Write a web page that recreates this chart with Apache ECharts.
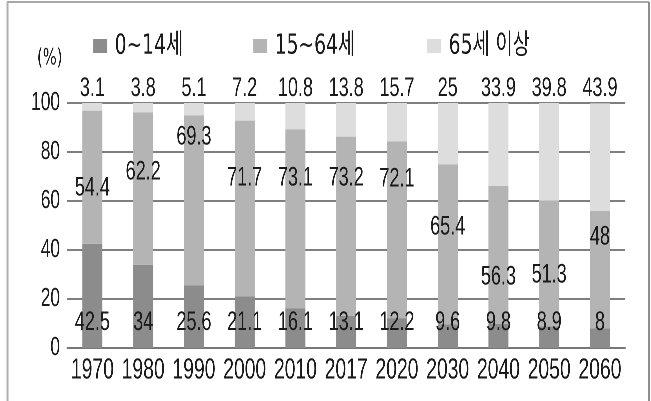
<!DOCTYPE html>
<html>
<head>
<meta charset="utf-8">
<script src="https://cdn.jsdelivr.net/npm/echarts@6/dist/echarts.min.js"></script>
<style>
html,body{margin:0;padding:0;background:#fff;overflow:hidden;width:651px;height:401px;}
#c{width:976.5px;height:401px;transform:scaleX(0.666667);transform-origin:0 0;}
</style>
</head>
<body>
<div id="c"></div>
<script>
// ---- data ----
const years = ['1970','1980','1990','2000','2010','2017','2020','2030','2040','2050','2060'];
const age0to14 = [42.5, 34, 25.6, 21.1, 16.1, 13.1, 12.2, 9.6, 9.8, 8.9, 8];
const age15to64 = [54.4, 62.2, 69.3, 71.7, 73.1, 73.2, 72.1, 65.4, 56.3, 51.3, 48];
const age65plus = [3.1, 3.8, 5.1, 7.2, 10.8, 13.8, 15.7, 25, 33.9, 39.8, 43.9];
const seriesNames = ['0~14세', '15~64세', '65세 이상'];
const yTicks = [0, 20, 40, 60, 80, 100];

// ---- layout (label anchor heights for the middle series, in axis units) ----
const midLabelAnchor = [65.3, 71.8, 86.1, 69.4, 69.4, 69.4, 69, 49.4, 29, 29.8, 45.3];

// horizontal condensing factor (the chart is drawn wide, then squeezed by CSS)
const S = 1.5;
const FONT = "Liberation Sans, Arial, Noto Sans CJK KR, sans-serif";
const FONT_WIDE = "DejaVu Sans, Noto Sans CJK KR, sans-serif";
const colors = ['#8c8c8c', '#b4b4b4', '#dddddd'];
const TXT = '#1a1a1a';

const midData = age15to64.map((v, i) => {
  const top = age0to14[i] + v;
  const pct = (top - midLabelAnchor[i]) / v * 100;
  return {
    value: v,
    label: { position: ['50%', pct.toFixed(2) + '%'], align: 'center', verticalAlign: 'middle' }
  };
});

const chart = echarts.init(document.getElementById('c'), null, { renderer: 'canvas', devicePixelRatio: 2 });
chart.setOption({
  animation: false,
  color: colors,
  textStyle: { fontFamily: FONT, color: TXT },
  legend: [0, 1, 2].map((k) => ({
    data: [seriesNames[k]],
    left: [90, 250, 424][k] * S,
    top: 27,
    itemWidth: 14 * S,
    itemHeight: 14,
    itemGap: 0,
    icon: 'rect',
    textStyle: { fontFamily: FONT_WIDE, fontSize: 28, color: TXT, padding: [0, 0, 0, 6] }
  })),
  graphic: [
    { type: 'line', silent: true, shape: { x1: 7 * S, y1: 2, x2: 649 * S, y2: 2 }, style: { stroke: '#8a8a8a', lineWidth: 1.5 } },
    { type: 'line', silent: true, shape: { x1: 7.5 * S, y1: 2, x2: 7.5 * S, y2: 401 }, style: { stroke: '#b0b0b0', lineWidth: 2 * S } },
    { type: 'line', silent: true, shape: { x1: 649 * S, y1: 2, x2: 649 * S, y2: 401 }, style: { stroke: '#8a8a8a', lineWidth: 1.5 * S } },
    { type: 'text', silent: true, left: 37 * S, top: 48, style: { text: '(%)', fontSize: 22, fontFamily: FONT_WIDE, fill: TXT } }
  ],
  grid: { left: 67 * S, right: 26 * S, top: 103, bottom: 53 },
  xAxis: {
    type: 'category',
    data: years,
    axisTick: { show: false },
    axisLine: { lineStyle: { color: '#666', width: 1.5 } },
    axisLabel: { interval: 0, fontSize: 29, color: TXT, margin: 8, fontFamily: FONT }
  },
  yAxis: {
    type: 'value',
    min: 0, max: 100, interval: 20,
    axisLine: { show: false },
    axisTick: { show: false },
    splitLine: { lineStyle: { color: '#555', width: 1.5 } },
    axisLabel: { fontSize: 26, color: TXT, margin: 7 * S, fontFamily: FONT,
      formatter: (v) => yTicks.includes(v) ? String(v) : '' }
  },
  series: [
    {
      name: seriesNames[0], type: 'bar', stack: 'p', barWidth: 20 * S,
      data: age0to14,
      label: { show: true, position: 'insideBottom', distance: 12, fontSize: 27, color: TXT, fontFamily: FONT }
    },
    {
      name: seriesNames[1], type: 'bar', stack: 'p', barWidth: 20 * S,
      data: midData,
      label: { show: true, fontSize: 27, color: TXT, fontFamily: FONT }
    },
    {
      name: seriesNames[2], type: 'bar', stack: 'p', barWidth: 20 * S,
      data: age65plus,
      label: { show: true, position: 'top', distance: 1, fontSize: 27, color: TXT, fontFamily: FONT }
    }
  ]
});
</script>
</body>
</html>
